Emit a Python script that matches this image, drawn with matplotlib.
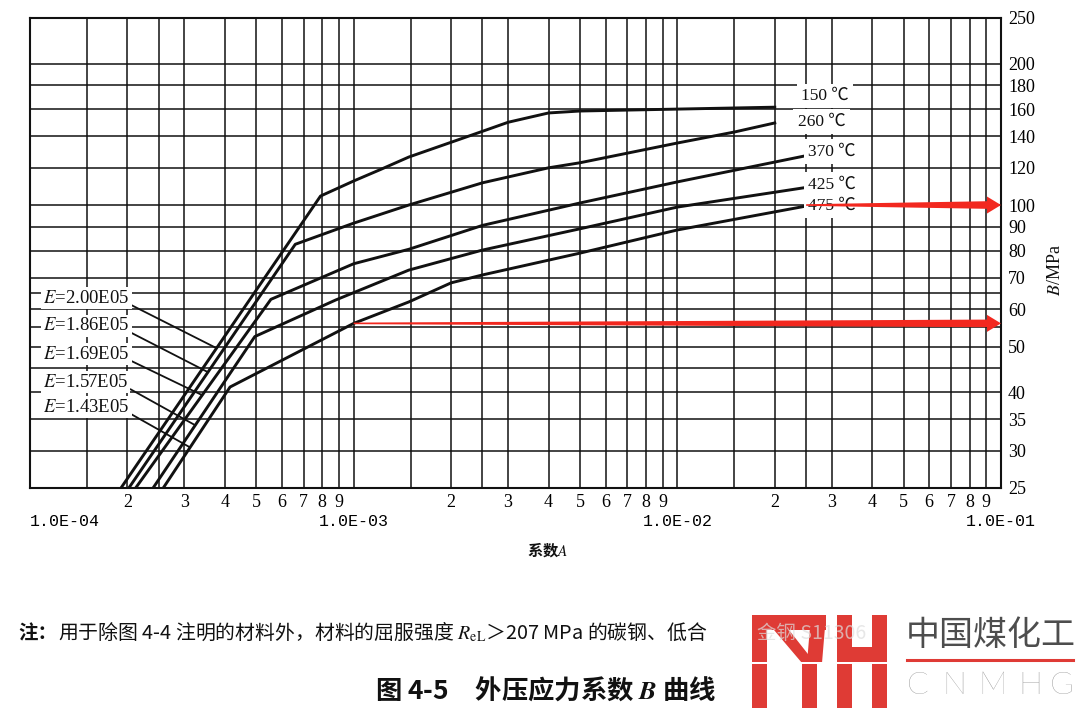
import numpy as np
import matplotlib
matplotlib.use("Agg")
import matplotlib.pyplot as plt
from matplotlib.patches import Polygon
from matplotlib.lines import Line2D
from matplotlib.ticker import NullLocator

plt.rcParams['font.family'] = ['Liberation Serif', 'Noto Sans CJK SC', 'DejaVu Sans']
plt.rcParams['mathtext.fontset'] = 'stix'

# ---- data (A = 系数A, B in MPa) ----
temp_labels = ['150 ℃', '260 ℃', '370 ℃', '425 ℃', '475 ℃']
e_labels = ['$E$=2.00E05', '$E$=1.86E05', '$E$=1.69E05', '$E$=1.57E05', '$E$=1.43E05']

a_150 = [1.91e-4, 7.9e-4, 1.0e-3, 1.21e-3, 1.48e-3, 2.0e-3, 2.5e-3, 3.0e-3, 4.0e-3, 5.0e-3, 1.0e-2, 2.0e-2]
b_150 = [25, 104.5, 112.5, 119, 126.5, 136, 143.5, 150, 157, 158.5, 160, 161.5]
a_260 = [2.02e-4, 6.6e-4, 1.0e-3, 1.48e-3, 2.5e-3, 4.0e-3, 5.0e-3, 1.0e-2, 1.5e-2, 2.0e-2]
b_260 = [25, 82.5, 91.5, 100, 111.5, 120, 123, 135.5, 143, 149.5]
a_370 = [2.12e-4, 5.55e-4, 1.0e-3, 1.48e-3, 2.5e-3, 5.0e-3, 1.0e-2, 2.45e-2]
b_370 = [25, 63, 75, 80.5, 90.5, 101, 112, 127]
a_425 = [2.4e-4, 4.95e-4, 8.8e-4, 1.48e-3, 2.5e-3, 5.0e-3, 1.0e-2, 2.5e-2]
b_425 = [25, 52.5, 62.8, 72.7, 80.2, 89, 99, 109]
a_475 = [2.58e-4, 4.15e-4, 1.0e-3, 1.48e-3, 2.0e-3, 2.5e-3, 5.0e-3, 1.0e-2, 2.5e-2]
b_475 = [25, 41, 56, 62.2, 68.3, 71, 79, 88.5, 99.5]

curves_a = [a_150, a_260, a_370, a_425, a_475]
curves_b = [b_150, b_260, b_370, b_425, b_475]

# B value where each E leader touches its elastic line
leader_b = [49.6, 44.1, 39.4, 34.0, 30.5]

# red arrows: start A, B level
arrow_a = [2.5e-2, 1.0e-3]
arrow_b = [100, 56]

x_decades = [1e-4, 1e-3, 1e-2]
x_grid_mult = [1.5, 2, 2.5, 3, 4, 5, 6, 7, 8, 9]
x_major = [1e-4, 1e-3, 1e-2, 1e-1]
x_major_labels = ['1.0E-04', '1.0E-03', '1.0E-02', '1.0E-01']
y_grid = [25, 30, 35, 40, 45, 50, 55, 60, 65, 70, 80, 90, 100, 120, 140, 160, 180, 200, 250]
y_hidden = [45, 55, 65]

INK = '#111111'
RED = '#f2281f'
CJK = ['Noto Sans CJK SC', 'DejaVu Sans']

fig = plt.figure(figsize=(10.8, 7.14), dpi=100)
fig.patch.set_facecolor('white')
ax = fig.add_axes([30 / 1080, 226 / 714, 971 / 1080, 470 / 714])
ax.set_xscale('log')
ax.set_yscale('log')
ax.set_xlim(1e-4, 1e-1)
ax.set_ylim(25, 250)

# grid / ticks
x_minor = [m * d for d in x_decades for m in x_grid_mult]
x_minor_labels = ['' if m in (1.5, 2.5) else str(int(m)) for d in x_decades for m in x_grid_mult]
ax.set_xticks(x_major, x_major_labels)
ax.set_xticks(x_minor, x_minor_labels, minor=True)
ax.set_yticks(y_grid, ['' if v in y_hidden else str(v) for v in y_grid])
ax.yaxis.set_minor_locator(NullLocator())
ax.yaxis.tick_right()

ax.grid(True, which='both', color=INK, lw=1.1)
ax.set_axisbelow(True)
ax.tick_params(axis='x', which='major', length=0, pad=19, labelsize=12,
               labelfontfamily='Liberation Mono')
ax.tick_params(axis='x', which='minor', length=0, pad=4, labelsize=13)
ax.tick_params(axis='y', which='both', length=0, pad=5, labelsize=13)
for s in ax.spines.values():
    s.set_color(INK)
    s.set_linewidth(1.5)
ax.xaxis.get_major_ticks()[0].label1.set_horizontalalignment('left')

# curves
for a, b in zip(curves_a, curves_b):
    ax.plot(a, b, color=INK, lw=2.1, solid_joinstyle='round', zorder=3)

# temperature labels at curve ends
temp_offsets = [(19, 8), (16.5, 1), (3.5, 3.5), (1.5, 2), (1.5, 0)]
for lab, a, b, off in zip(temp_labels, curves_a, curves_b, temp_offsets):
    ax.annotate(lab, xy=(a[-1], b[-1]), xytext=off, textcoords='offset points',
                ha='left', va='center', fontsize=12.5, color=INK, zorder=4,
                bbox=dict(boxstyle='square,pad=0.25', fc='white', ec='none'))

# E labels with leader lines to the elastic parts
e_text_y = [0.404, 0.345, 0.285, 0.2255, 0.172]
for lab, a, b, bt, ty in zip(e_labels, curves_a, curves_b, leader_b, e_text_y):
    at = 10 ** np.interp(np.log10(bt), np.log10(b[:2]), np.log10(a[:2]))
    ax.annotate(lab, xy=(at, bt), xytext=(0.0134, ty), textcoords='axes fraction',
                ha='left', va='center', fontsize=13.5, color=INK, zorder=4,
                bbox=dict(boxstyle='square,pad=0.12', fc='white', ec='none'),
                arrowprops=dict(arrowstyle='-', color=INK, lw=1.3,
                                relpos=(1.0, 0.15), shrinkA=0, shrinkB=0))


def red_arrow(a0, b):
    # tapered red arrow from (a0, b) to the right edge, sized in pixels
    x0, y = ax.transData.transform((a0, b))
    x1, _ = ax.transData.transform((ax.get_xlim()[1], b))
    xs = x1 - 14
    pts = [(x0, y - 0.8), (xs, y - 3.8), (xs, y - 8.5), (x1, y), (xs, y + 8.5),
           (xs, y + 3.8), (x0, y + 0.8)]
    pts = ax.transAxes.inverted().transform(pts)
    ax.add_patch(Polygon(pts, closed=True, transform=ax.transAxes, fc=RED, ec='none',
                         zorder=6, clip_on=False))


for a0, b in zip(arrow_a, arrow_b):
    red_arrow(a0, b)

# axis titles
fig.text(1055 / 1080, 1 - 270 / 714, '$B$/MPa', rotation=90, ha='center', va='center',
         fontsize=13, color=INK)
fig.text(548 / 1080, 1 - 550 / 714, '系数$A$', ha='center', va='center', fontsize=11,
         family=CJK, weight='bold', color=INK)

# note and caption (mathtext only uses the first family, so CJK font first)
fig.text(18 / 1080, 1 - 639 / 714, '注：', ha='left', va='baseline', fontsize=14,
         family=CJK, weight='bold', color=INK)
fig.text(58 / 1080, 1 - 639 / 714,
         '用于除图 4-4 注明的材料外，材料的屈服强度 $R_{\\mathrm{eL}}$＞207 MPa 的碳钢、低合',
         ha='left', va='baseline', fontsize=14.3, color=INK, family=CJK)
fig.text(757 / 1080, 1 - 639 / 714, '金钢 S11306', ha='left', va='baseline', fontsize=14,
         color='#dddddd', alpha=0.7, zorder=8, family=CJK)
fig.text(546 / 1080, 1 - 690 / 714, '图 4-5　外压应力系数 $\\boldsymbol{B}$ 曲线',
         ha='center', va='center', fontsize=19, weight='bold', color=INK, family=CJK)


# logo (pixel coordinates, y from top)
def fig_poly(pts, color, z=7):
    p = [(x / 1080, 1 - y / 714) for x, y in pts]
    fig.add_artist(Polygon(p, closed=True, transform=fig.transFigure, fc=color, ec='none',
                           zorder=z))


def fig_rect(x0, y0, x1, y1, color, z=7):
    fig_poly([(x0, y0), (x1, y0), (x1, y1), (x0, y1)], color, z)


LOGO = '#df3b35'
fig_rect(752, 615, 767, 708, LOGO)
fig_rect(752, 615, 826, 630, LOGO)
fig_poly([(811, 615), (826, 615), (822, 663), (807, 663)], LOGO)
fig_poly([(774, 630), (789, 630), (815, 663), (802, 663)], LOGO)
fig_rect(802, 660, 817, 708, LOGO)
fig_rect(837, 615, 852, 708, LOGO)
fig_rect(872, 615, 887, 708, LOGO)
fig_rect(852, 647, 872, 662, LOGO)
fig_rect(748, 661.5, 890, 664, 'white', z=7.5)

fig.text(906 / 1080, 1 - 635 / 714, '中国煤化工', ha='left', va='center', fontsize=24.5,
         color='#4d4d4d', family=CJK, zorder=7)
fig.add_artist(Line2D([907 / 1080, 1073 / 1080], [1 - 660 / 714, 1 - 660 / 714],
                      transform=fig.transFigure, color=LOGO, lw=2.2, zorder=7))
for ch, cx in zip('CNMHG', [918, 954, 992, 1030, 1062]):
    fig.text(cx / 1080, 1 - 686 / 714, ch, ha='center', va='center', fontsize=23,
             color='#7a7a7a', family=['Lato', 'DejaVu Sans'], weight='light', zorder=7)

fig.savefig('out.png', dpi=100)
